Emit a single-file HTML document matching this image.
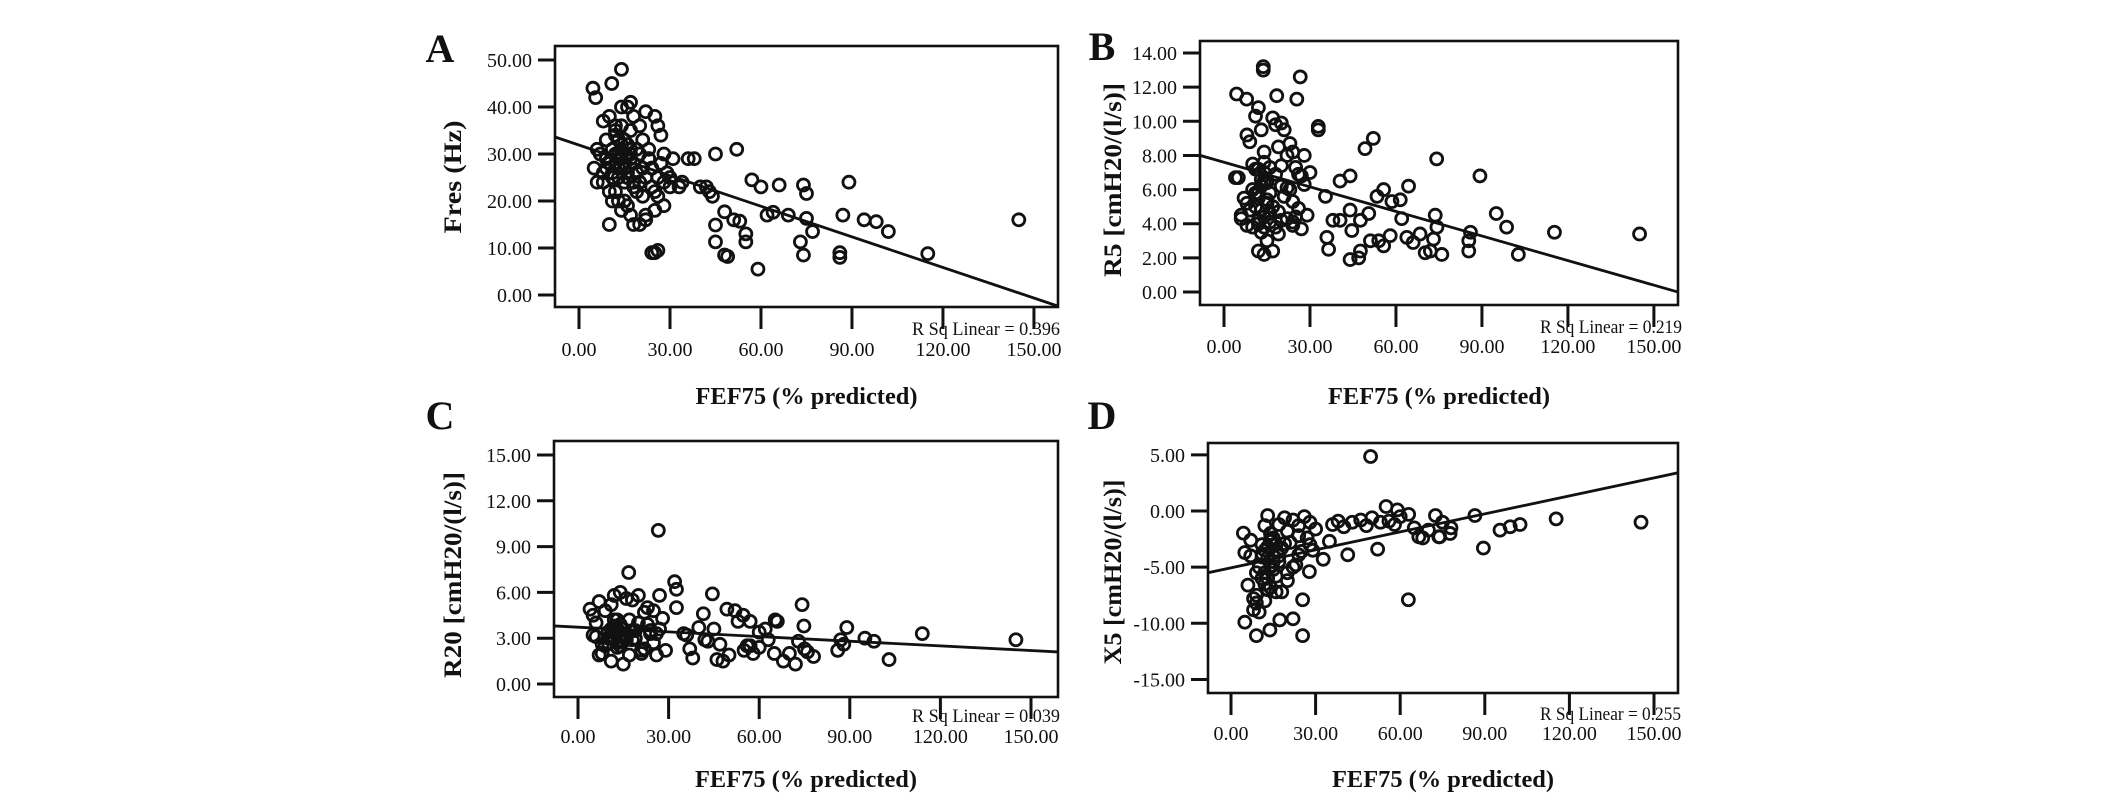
<!DOCTYPE html>
<html><head><meta charset="utf-8"><style>
html,body{margin:0;padding:0;background:#fff;}
svg{display:block;}
text{font-family:"Liberation Serif",serif;fill:#111;}
</style></head><body>
<svg id="fig" width="2126" height="801" viewBox="0 0 2126 801"></svg>
<script>
// ---- Panel A: Fres (Hz) vs FEF75 ----
const aX=[4.6,5.5,10.8,14,8,10,12,14,16,17,18,20,22,25,26,27,6,7,5,6,8,10,11,12,13,14,15,16,17,18,19,20,21,22,23,24,25,26,27,28,29,30,9,12,13,14,15,16,17,19,20,22,25,28,10,18,24,25,26,22,11,13,15,17,19,21,23,24,26,28,30,31,33,34,36,38,40,42,44,43,45,52,57,60,66,74,75,89,87,86,86,94,98,102,115,145,59,48,45,45,48,49,55,55,73,74,75,77,62,64,69,51,53,9,11,13,15,12,14,16,18,20,8,10,12,14,16,18,21,23,11,13,15,17,19,12,14,16,18,9,13,15,17,20,24];
const aY=[44,42,45,48,37,38,36,40,40,41,38,36,39,38,36,34,31,30,27,24,24,28,26,30,33,29,27,25,30,28,26,24,27,25,29,23,22,21,28,30,26,23,33,22,20,18,20,19,17,22,15,16,18,19,15,15,9,9,9.5,17,20,25,33,35,31,33,31,27,25,24,25,29,23,24,29,29,23,23,21,22,30,31,24.5,23,23.4,23.4,21.6,24,17,9,8,16,15.6,13.5,8.8,16,5.5,17.7,14.9,11.3,8.5,8.2,13,11.3,11.3,8.5,16.3,13.5,17,17.6,17,16,15.7,29,31,27,24,34,36,32,28,30,26,22,35,31,26,23,21,29,25,30,27,29,26,28,32,25,24,27,29,28,31,24,27,26];
const aFit=[31.9,-0.217];
// ---- Panel B: R5 vs FEF75 ----
const bX=[4.4,7.9,13.7,13.7,18.4,25.4,26.6,32.9,32.9,49.2,52.1,74.2,89.3,95,98.6,102.7,115.3,145,35.4,35.9,36.5,40.5,44,38,40.5,44,44.6,44,47,47.6,47.6,50.5,51.1,53.4,55.7,58.6,61.5,64.4,54,55.7,58,62,63.8,66,68.4,70.2,72,73.7,74.3,73.1,76,85.4,86,85.4,4,5,6,7,8,9,10,11,12,13,14,15,16,17,18,19,20,21,22,23,24,25,26,27,28,29,10,12,14,16,18,20,22,24,8,9,11,13,15,17,19,21,23,25,27,6,8,10,12,14,16,18,20,22,24,26,28,11,13,15,17,19,12,14,16,30,12,14,24,20,12,13,14,15,13,14,12,15,11,13];
const bY=[11.6,11.3,13.2,13.0,11.5,11.3,12.6,9.7,9.5,8.4,9,7.8,6.8,4.6,3.8,2.2,3.5,3.4,5.6,3.2,2.5,6.5,6.8,4.2,4.2,4.8,3.6,1.9,2.0,2.4,4.2,4.6,3.0,5.6,6.0,5.3,5.4,6.2,3.0,2.7,3.3,4.3,3.2,2.9,3.4,2.3,2.4,4.5,3.8,3.1,2.2,3.0,3.5,2.4,6.7,6.7,4.3,5.5,9.2,8.8,7.5,10.3,10.8,9.5,8.2,6.5,7.3,10.2,9.8,8.5,9.9,9.5,8.0,8.7,8.2,7.3,6.9,6.8,8.0,4.5,3.8,4.0,4.4,4.1,3.8,4.2,4.3,3.9,5.2,4.8,5.8,6.2,5.4,5.0,4.7,5.6,6.0,4.4,3.7,4.5,3.9,6.0,7.2,6.5,5.8,6.9,7.4,6.1,5.3,4.9,6.3,5.0,3.5,3.0,2.4,3.4,2.4,3.8,4.6,7.0,4.2,2.2,4.1,6.2,5.8,6.6,7.0,5.2,4.8,7.6,5.5,6.4,7.2];
const bFit=[7.6,-0.048];
// ---- Panel C: R20 vs FEF75 ----
const cX=[26.6,16.8,32,32.6,32.6,44.5,41.5,49.3,52,54.7,57,65.3,74.2,74.8,86,87,88,89,95,98,103,114,145,4,5,6,7,8,9,10,11,12,13,14,15,16,17,18,19,20,21,22,23,24,25,26,27,28,29,5,7,9,11,13,15,17,19,21,23,25,27,6,8,10,12,14,16,18,20,22,24,26,10,12,14,16,18,36,37,38,40,43,45,46,47,48,50,53,55,56,58,60,62,63,65,66,68,70,72,73,75,76,78,35,42,57,60,11,12,13,14,15,12,13,14,16,11];
const cY=[10.06,7.3,6.7,6.2,5.0,5.9,4.6,4.9,4.8,4.5,4.1,4.2,5.2,3.8,2.2,2.9,2.6,3.7,3.0,2.8,1.6,3.3,2.9,4.9,4.5,3.1,5.4,2.0,4.8,3.0,5.2,5.8,3.6,6.0,1.3,5.6,4.2,5.5,3.0,5.8,2.2,4.7,5.0,3.3,4.8,1.9,5.8,4.3,2.2,3.2,1.9,2.5,1.5,4.2,2.8,1.9,3.5,2.0,3.9,2.7,3.6,4.0,2.6,3.4,3.8,2.5,3.1,2.9,4.0,2.3,3.5,3.3,2.7,3.0,2.8,3.2,3.5,3.2,2.3,1.7,3.7,2.8,3.6,1.6,2.6,1.5,1.9,4.1,2.2,2.5,2.0,3.4,3.6,2.9,2.0,4.1,1.5,2.0,1.3,2.8,2.3,2.1,1.8,3.3,2.9,2.5,2.4,3.0,3.4,2.7,3.2,3.6,4.2,2.4,3.9,2.9,3.6];
const cFit=[3.72,-0.0102];
// ---- Panel D: X5 vs FEF75 ----
const dX=[49.5,4.4,4.9,4.9,9,13.8,17.3,22,25.4,25.4,27.8,62.9,52,41.4,34.9,32.7,55,59,63,66.6,72.5,73.7,86.5,89.5,95.4,99,102.5,115.3,145.4,77.7,74,6,7,8,9,10,11,12,13,14,15,16,17,18,19,20,21,22,23,24,25,26,27,28,29,30,8,10,12,14,16,18,20,22,24,7,9,11,13,15,17,19,9,11,13,15,17,36,38,40,43,46,48,50,53,56,58,60,65,68,70,75,78,12,14,16,20,24,28,12,13,14,15,13,14,12,15,11,13];
const dY=[4.85,-1.97,-3.7,-9.9,-11.1,-10.6,-9.7,-9.6,-11.1,-7.9,-5.4,-7.9,-3.4,-3.9,-2.7,-4.3,0.4,0.1,-0.3,-2.3,-0.4,-2.3,-0.4,-3.3,-1.7,-1.4,-1.2,-0.7,-1.0,-2.0,-2.3,-6.6,-4.0,-8.8,-7.5,-5.0,-3.0,-6.5,-0.4,-2.0,-4.5,-7.2,-1.2,-3.3,-0.6,-5.5,-2.8,-0.8,-4.8,-1.3,-3.6,-0.5,-2.4,-1.0,-3.5,-1.6,-7.8,-9.0,-8.0,-6.8,-5.8,-7.2,-6.2,-5.0,-3.9,-2.6,-5.5,-4.1,-3.2,-2.4,-4.0,-2.9,-8.2,-6.0,-7.0,-5.2,-4.5,-1.2,-0.9,-1.4,-1.0,-0.8,-1.3,-0.6,-1.0,-0.9,-1.2,-0.5,-1.5,-2.4,-1.7,-1.0,-1.5,-1.3,-2.7,-3.0,-1.8,-2.2,-3.0,-3.5,-4.2,-5.0,-3.0,-6.0,-2.5,-5.5,-4.5,-3.8,-7.0];
const dFit=[-5.06,0.0534];

const NS="http://www.w3.org/2000/svg";
const svg=document.getElementById('fig');
function mk(tag,attrs,parent){const e=document.createElementNS(NS,tag);for(const k in attrs)e.setAttribute(k,attrs[k]);(parent||svg).appendChild(e);return e;}

function panel(p){
  const g=mk('g',{});
  
  
  const sx=v=>p.x0+p.kx*v, sy=v=>p.y0-p.ky*v;
  const L=p.box[0],T=p.box[1],R=p.box[2],B=p.box[3];
  const lt=mk('text',{x:p.letter[0],y:p.letter[1],'font-size':40,'font-weight':'bold','text-anchor':'middle'},g);
  lt.textContent=p.id;
  
  
  const cp=mk('clipPath',{id:'clip'+p.id},g);
  mk('rect',{x:L,y:T,width:R-L,height:B-T},cp);
  const pts=mk('g',{'clip-path':'url(#clip'+p.id+')'},g);
  
  
  for(let i=0;i<p.xs.length;i++){
    const c=mk('circle',{cx:sx(p.xs[i]),cy:sy(p.ys[i]),r:6,fill:'none',stroke:'#111','stroke-width':2.8},pts);
    
    
  }
  const xa=(L-p.x0)/p.kx, xb=(R-p.x0)/p.kx;
  const fl=mk('line',{x1:sx(xa),y1:sy(p.fit[0]+p.fit[1]*xa),x2:sx(xb),y2:sy(p.fit[0]+p.fit[1]*xb),stroke:'#111','stroke-width':2.8,'clip-path':'url(#clip'+p.id+')'},g);
  
  
  const bx=mk('rect',{x:L,y:T,width:R-L,height:B-T,fill:'none',stroke:'#111','stroke-width':2.6},g);
  
  
  for(const v of p.yt){
    const y=sy(v);
    mk('line',{x1:L-17,y1:y,x2:L,y2:y,stroke:'#111','stroke-width':3},g);
    const t=mk('text',{x:L-23,y:y+7,'font-size':20,'text-anchor':'end'},g);
    t.textContent=v.toFixed(2);
    
    
  }
  for(const v of [0,30,60,90,120,150]){
    const x=sx(v);
    mk('line',{x1:x,y1:B,x2:x,y2:B+22,stroke:'#111','stroke-width':3},g);
    const t=mk('text',{x:x,y:p.xtb,'font-size':20,'text-anchor':'middle'},g);
    t.textContent=v.toFixed(2);
    
    
  }
  const rs=mk('text',{x:p.rs[0],y:p.rs[1],'font-size':19,textLength:p.rs[2],lengthAdjust:'spacingAndGlyphs'},g);
  rs.textContent='R Sq Linear = '+p.r2;
  
  
  const xt=mk('text',{x:(L+R)/2,y:p.xt,'font-size':24,'font-weight':'bold','text-anchor':'middle',textLength:222,lengthAdjust:'spacingAndGlyphs'},g);
  xt.textContent='FEF75 (% predicted)';
  
  
  const yt=mk('text',{x:0,y:0,'font-size':25,'font-weight':'bold','text-anchor':'middle',textLength:p.yl[3],lengthAdjust:'spacingAndGlyphs',transform:'translate('+p.yl[0]+','+p.yl[1]+') rotate(-90)'},g);
  yt.textContent=p.yl[2];
  
  
}

panel({id:'A',xs:aX,ys:aY,fit:aFit,box:[555,46,1058,307],x0:579,kx:3.033,y0:295,ky:4.7,yt:[0,10,20,30,40,50],
  letter:[440,62],xtb:356,rs:[912,335,148],r2:'0.396',xt:404,yl:[461,177,'Fres (Hz)',113]});
panel({id:'B',xs:bX,ys:bY,fit:bFit,box:[1200,41,1678,305],x0:1224,kx:2.866,y0:292,ky:17.07,yt:[0,2,4,6,8,10,12,14],
  letter:[1102,60],xtb:353,rs:[1540,333,142],r2:'0.219',xt:404,yl:[1121,180,'R5 [cmH20/(l/s)]',194]});
panel({id:'C',xs:cX,ys:cY,fit:cFit,box:[554,441,1058,697],x0:578,kx:3.02,y0:684,ky:15.27,yt:[0,3,6,9,12,15],
  letter:[440,429],xtb:743,rs:[912,722,148],r2:'0.039',xt:787,yl:[461,575,'R20 [cmH20/(l/s)]',206]});
panel({id:'D',xs:dX,ys:dY,fit:dFit,box:[1208,443,1678,693],x0:1231,kx:2.82,y0:511,ky:11.23,yt:[-15,-10,-5,0,5],
  letter:[1102,429],xtb:740,rs:[1540,720,141],r2:'0.255',xt:787,yl:[1121,572,'X5 [cmH20/(l/s)]',185]});
</script>
</body></html>
